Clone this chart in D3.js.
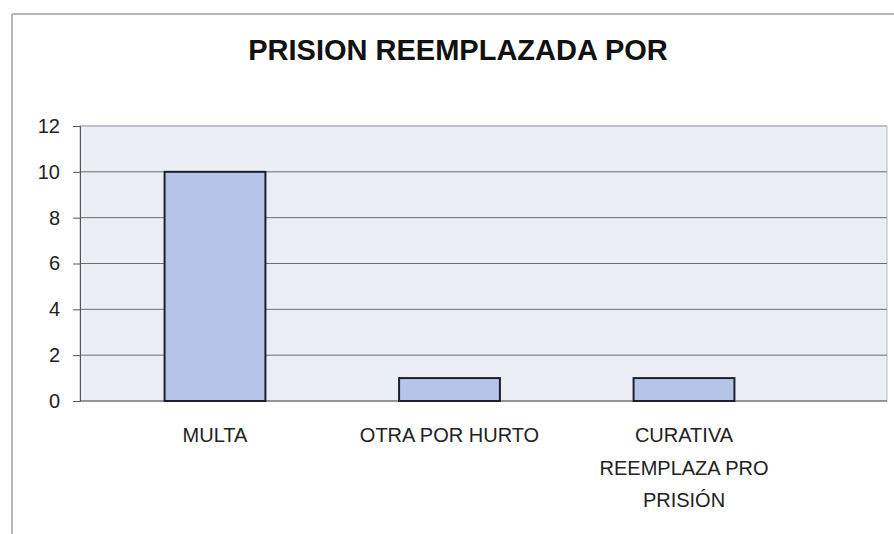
<!DOCTYPE html>
<html>
<head>
<meta charset="utf-8">
<script src="https://cdn.jsdelivr.net/npm/d3@7"></script>
<style>
  html, body { margin: 0; padding: 0; background: #fff; }
  svg { display: block; }
</style>
</head>
<body>
<svg id="chart" width="894" height="534"></svg>
<script>
// Data
const categories = ["MULTA", "OTRA POR HURTO", "CURATIVA REEMPLAZA PRO PRISIÓN"];
const categoryLines = [["MULTA"], ["OTRA POR HURTO"], ["CURATIVA", "REEMPLAZA PRO", "PRISIÓN"]];
const values = [10, 1, 1];
const yTicks = [0, 2, 4, 6, 8, 10, 12];
const title = "PRISION REEMPLAZADA POR";

const svg = d3.select("#chart");
const font = "'Liberation Sans', Arial, sans-serif";

// Plot area
const plot = { left: 80, right: 887, top: 126, bottom: 401 };

const y = d3.scaleLinear().domain([0, 12]).range([plot.bottom, plot.top]);
const x = d3.scaleBand()
  .domain(categories)
  .range([97.75, 801.25])
  .paddingInner(0.57)
  .paddingOuter(0.285);

// Outer chart frame (top and left edges)
svg.append("line").attr("x1", 12).attr("x2", 894).attr("y1", 14).attr("y2", 14)
  .attr("stroke", "#a0a0a0").attr("stroke-width", 1.5);
svg.append("line").attr("x1", 12).attr("x2", 12).attr("y1", 14).attr("y2", 534)
  .attr("stroke", "#a0a0a0").attr("stroke-width", 1.5);

// Title
svg.append("text")
  .attr("x", 458).attr("y", 60)
  .attr("text-anchor", "middle")
  .attr("font-family", font).attr("font-weight", "bold").attr("font-size", 29)
  .attr("fill", "#111")
  .text(title);

// Plot background
svg.append("rect")
  .attr("x", plot.left).attr("y", plot.top)
  .attr("width", plot.right - plot.left).attr("height", plot.bottom - plot.top)
  .attr("fill", "#eceef5")
  .attr("stroke", "#b8b8c0").attr("stroke-width", 1);

// Gridlines
svg.append("g").selectAll("line")
  .data(yTicks.filter(d => d > 0))
  .join("line")
  .attr("x1", plot.left).attr("x2", plot.right)
  .attr("y1", d => y(d)).attr("y2", d => y(d))
  .attr("stroke", d => d === 12 ? "#a8a8b0" : "#6e6e74")
  .attr("stroke-width", 1);

// Y axis
const yAxis = d3.axisLeft(y).tickValues(yTicks).tickSize(7).tickPadding(13).tickFormat(d3.format("d"));
const gy = svg.append("g").attr("transform", `translate(${plot.left},0)`).call(yAxis);
gy.select(".domain").attr("stroke", "#555");
gy.selectAll(".tick line").attr("stroke", "#555");
gy.selectAll(".tick text")
  .attr("font-family", font).attr("font-size", 20).attr("fill", "#222");

// Baseline
svg.append("line")
  .attr("x1", plot.left).attr("x2", plot.right)
  .attr("y1", y(0)).attr("y2", y(0))
  .attr("stroke", "#555").attr("stroke-width", 1.2);

// Bars
svg.append("g").selectAll("rect")
  .data(values)
  .join("rect")
  .attr("x", (d, i) => x(categories[i]))
  .attr("y", d => y(d))
  .attr("width", x.bandwidth())
  .attr("height", d => y(0) - y(d))
  .attr("fill", "#b6c4ea")
  .attr("stroke", "#1c1f2e")
  .attr("stroke-width", 2);

// Category labels
const labels = svg.append("g");
categoryLines.forEach((lines, i) => {
  const cx = x(categories[i]) + x.bandwidth() / 2;
  const t = labels.append("text")
    .attr("x", cx).attr("y", 442)
    .attr("text-anchor", "middle")
    .attr("font-family", font).attr("font-size", 20).attr("fill", "#222");
  lines.forEach((ln, j) => {
    t.append("tspan").attr("x", cx).attr("dy", j === 0 ? 0 : 32.5).text(ln);
  });
});
</script>
</body>
</html>
